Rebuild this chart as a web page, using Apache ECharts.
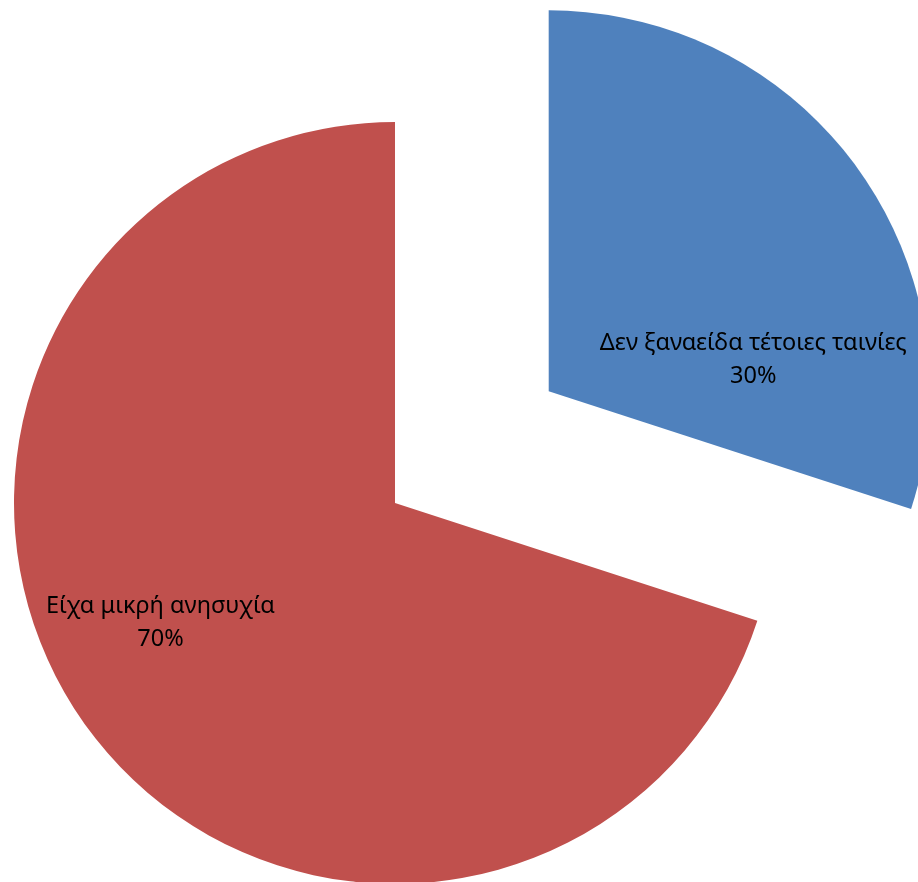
<!DOCTYPE html>
<html>
<head>
<meta charset="utf-8">
<script src="https://cdn.jsdelivr.net/npm/echarts@6/dist/echarts.min.js"></script>
<style>
html, body { margin: 0; padding: 0; background: #fff; }
#main { width: 918px; height: 882px; }
</style>
</head>
<body>
<div id="main"></div>
<script>
// categories and values (percent)
var categories = ['Δεν ξαναείδα τέτοιες ταινίες', 'Είχα μικρή ανησυχία'];
var values = [30, 70];
var colors = ['#4F81BD', '#C0504D'];
var labelShift = [[48, 82], [-78, 6]];

var chart = echarts.init(document.getElementById('main'));

var pieData = [];
for (var i = 0; i < categories.length; i++) {
	pieData.push({
		name: categories[i],
		value: values[i],
		selected: i == 0, // blue slice pulled out
		itemStyle: { color: colors[i] }
	});
}

var option = {
	animation: false,
	series: [{
		type: 'pie',
		center: [395, 503],
		radius: 381,
		startAngle: 90,
		clockwise: true,
		selectedMode: 'single',
		selectedOffset: 190,
		data: pieData,
		label: {
			show: true,
			position: 'inside',
			formatter: '{b}\n{d}%',
			color: '#000',
			fontFamily: 'Noto Sans',
			fontSize: 23.5,
			lineHeight: 33,
			align: 'center'
		},
		labelLayout: function(params) {
			var s = labelShift[params.dataIndex];
			return { dx: s[0], dy: s[1] };
		},
		labelLine: { show: false },
		emphasis: { disabled: true }
	}]
};
chart.setOption(option);
</script>
</body>
</html>
